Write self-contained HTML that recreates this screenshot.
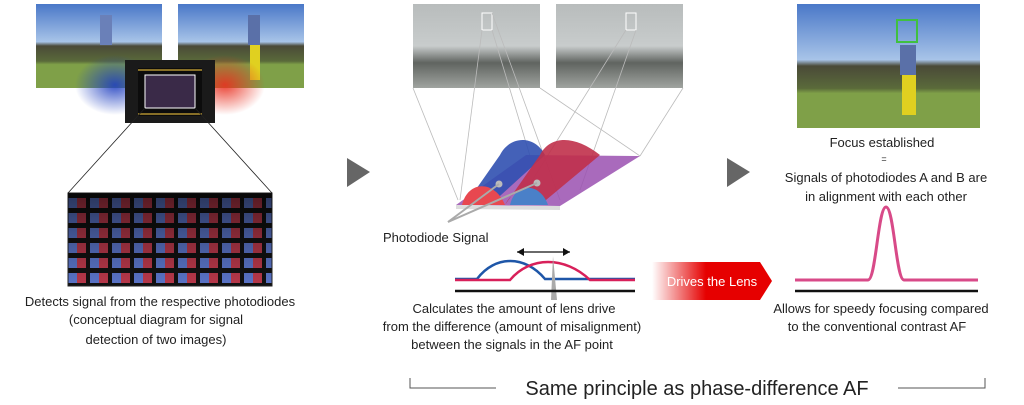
<!DOCTYPE html>
<html><head><meta charset="utf-8"><style>
body{margin:0;background:#fff}
svg{display:block;font-family:"Liberation Sans",Arial,sans-serif}
</style></head><body>
<svg width="1024" height="405" viewBox="0 0 1024 405" xmlns="http://www.w3.org/2000/svg">
<defs>
<linearGradient id="sky" x1="0" y1="0" x2="0" y2="1">
<stop offset="0" stop-color="#4a78c8"/><stop offset="0.45" stop-color="#a8c4e8"/><stop offset="0.5" stop-color="#4a4a38"/><stop offset="0.68" stop-color="#5a6a3a"/><stop offset="0.72" stop-color="#7fa048"/><stop offset="1" stop-color="#7fa048"/></linearGradient>
<linearGradient id="gray" x1="0" y1="0" x2="0" y2="1">
<stop offset="0" stop-color="#b8bcbc"/><stop offset="0.5" stop-color="#c8cccc"/><stop offset="0.7" stop-color="#606460"/><stop offset="1" stop-color="#a0a4a0"/></linearGradient>
<radialGradient id="blueG"><stop offset="0" stop-color="#2040c0" stop-opacity="0.9"/><stop offset="1" stop-color="#2040c0" stop-opacity="0"/></radialGradient>
<radialGradient id="redG"><stop offset="0" stop-color="#e83020" stop-opacity="0.9"/><stop offset="1" stop-color="#e83020" stop-opacity="0"/></radialGradient>
<linearGradient id="drv" x1="0" x2="1"><stop offset="0" stop-color="#e00000" stop-opacity="0"/><stop offset="0.45" stop-color="#e60000"/><stop offset="1" stop-color="#e60000"/></linearGradient>
<linearGradient id="shade" x1="0" y1="0" x2="0" y2="1"><stop offset="0" stop-color="#000" stop-opacity="0.55"/><stop offset="0.5" stop-color="#000" stop-opacity="0.25"/><stop offset="1" stop-color="#000" stop-opacity="0"/></linearGradient>
<pattern id="px" width="22" height="15" patternUnits="userSpaceOnUse"><rect width="22" height="15" fill="#111"/><rect x="2" y="3" width="9" height="10" fill="#5a74c8"/><rect x="11" y="3" width="9" height="10" fill="#b8384a"/></pattern>
</defs>

<rect x="36" y="4" width="126" height="84" fill="url(#sky)"/>
<rect x="178" y="4" width="126" height="84" fill="url(#sky)"/>
<rect x="100" y="15" width="12" height="30" fill="#6a80b8"/>
<rect x="248" y="15" width="12" height="30" fill="#5a70a8"/><rect x="250" y="45" width="10" height="35" fill="#e0d020"/>
<ellipse cx="115" cy="85" rx="40" ry="30" fill="url(#blueG)"/>
<ellipse cx="225" cy="85" rx="40" ry="30" fill="url(#redG)"/>
<rect x="125" y="60" width="90" height="63" fill="#1a1a1a"/>
<rect x="138" y="68" width="64" height="48" fill="#0c0c0c"/>
<rect x="145" y="75" width="50" height="33" fill="#3a2a48" stroke="#fff" stroke-width="1"/>
<line x1="138" y1="70" x2="202" y2="70" stroke="#b09030" stroke-width="1.5"/>
<line x1="138" y1="114" x2="202" y2="114" stroke="#b09030" stroke-width="1.5"/>
<line x1="145" y1="108" x2="68" y2="193" stroke="#222" stroke-width="0.8"/>
<line x1="195" y1="108" x2="272" y2="193" stroke="#222" stroke-width="0.8"/>
<rect x="68" y="193" width="204" height="93" fill="url(#px)" stroke="#222"/>
<rect x="68" y="193" width="204" height="93" fill="url(#shade)"/>
<text font-size="13" fill="#222" text-anchor="middle"><tspan x="160" y="306">Detects signal from the respective photodiodes</tspan><tspan x="156" y="324">(conceptual diagram for signal</tspan><tspan x="156" y="344">detection  of two images)</tspan></text>

<polygon points="347,158 370,172 347,187" fill="#666"/>
<polygon points="727,158 750,172 727,187" fill="#666"/>

<rect x="413" y="4" width="127" height="84" fill="url(#gray)"/>
<rect x="556" y="4" width="127" height="84" fill="url(#gray)"/>
<rect x="482" y="13" width="10" height="17" fill="none" stroke="#fff"/>
<rect x="626" y="13" width="10" height="17" fill="none" stroke="#fff"/>
<g stroke="#bbb" stroke-width="0.8" fill="none">
<line x1="413" y1="88" x2="458" y2="200"/><line x1="482" y1="30" x2="460" y2="200"/><line x1="492" y1="30" x2="530" y2="156"/><line x1="492" y1="13" x2="560" y2="200"/>
<line x1="540" y1="88" x2="640" y2="156"/><line x1="626" y1="30" x2="520" y2="200"/><line x1="636" y1="30" x2="580" y2="190"/><line x1="683" y1="88" x2="640" y2="156"/>
</g>
<polygon points="456,205 560,206 640,156 526,155" fill="#9a50b0" opacity="0.85"/>
<polygon points="456,205 560,206 560,210 456,209" fill="#ddd"/>
<path d="M500,155 C510,135 535,135 545,155 L490,205 C485,190 470,185 465,205 Z" fill="#3050b0" opacity="0.9"/>
<path d="M540,155 C550,135 575,135 600,155 L540,205 C530,190 515,185 505,205 Z" fill="#c0304a" opacity="0.9"/>
<path d="M462,205 C468,180 495,180 505,205Z" fill="#e84850"/>
<path d="M510,205 C515,182 540,182 548,205Z" fill="#4a80c8"/>
<circle cx="499" cy="184" r="3.5" fill="#bbb"/><circle cx="537" cy="183" r="3.5" fill="#bbb"/>
<line x1="499" y1="184" x2="448" y2="222" stroke="#aaa" stroke-width="2"/>
<line x1="537" y1="183" x2="448" y2="222" stroke="#aaa" stroke-width="2"/>
<text x="383" y="242" font-size="13" fill="#222">Photodiode Signal</text>
<line x1="517" y1="252" x2="570" y2="252" stroke="#111" stroke-width="1.3"/>
<polygon points="517,252 524,248 524,256" fill="#111"/><polygon points="570,252 563,248 563,256" fill="#111"/>
<path d="M455,279 L477,279 C495,255 525,255 545,279 L635,279" fill="none" stroke="#1e56a8" stroke-width="2.5"/>
<path d="M455,280 L477,280 L510,280 C530,256 565,256 590,280 L635,280" fill="none" stroke="#d8205a" stroke-width="2.5"/>
<polygon points="553,256 557,300 551,300" fill="#aaa"/>
<line x1="455" y1="291" x2="635" y2="291" stroke="#111" stroke-width="2.5"/>
<text font-size="13" fill="#222" text-anchor="middle"><tspan x="514" y="313">Calculates the amount of lens drive</tspan><tspan x="512" y="331">from the difference (amount of misalignment)</tspan><tspan x="512" y="349">between the signals in the AF point</tspan></text>
<polygon points="652,262 760,262 772,281 760,300 652,300" fill="url(#drv)"/>
<text x="712" y="286" font-size="13" fill="#fff" text-anchor="middle">Drives the Lens</text>
<rect x="797" y="4" width="183" height="124" fill="url(#sky)"/>
<rect x="897" y="20" width="20" height="22" fill="none" stroke="#40c040" stroke-width="2"/>
<rect x="900" y="45" width="16" height="30" fill="#5a70a8"/><rect x="902" y="75" width="14" height="40" fill="#e0d020"/>
<text font-size="13" fill="#222" text-anchor="middle"><tspan x="882" y="147">Focus established</tspan><tspan x="884" y="162" font-size="9">=</tspan><tspan x="886" y="182">Signals of photodiodes A and B are</tspan><tspan x="886" y="201">in alignment with each other</tspan></text>
<path d="M795,280 L868,280 C876,280 878,207 886,207 C894,207 896,280 904,280 L978,280" fill="none" stroke="#d84a88" stroke-width="3"/>
<line x1="795" y1="291" x2="978" y2="291" stroke="#111" stroke-width="2.5"/>
<text font-size="13" fill="#222" text-anchor="middle"><tspan x="881" y="313">Allows for speedy focusing compared</tspan><tspan x="877" y="331">to the conventional contrast AF</tspan></text>
<path d="M410,378 L410,388 L496,388 M898,388 L985,388 L985,378" fill="none" stroke="#555" stroke-width="1"/>
<text x="697" y="395" font-size="20" fill="#222" text-anchor="middle">Same principle as phase-difference AF</text>
</svg>
</body></html>
